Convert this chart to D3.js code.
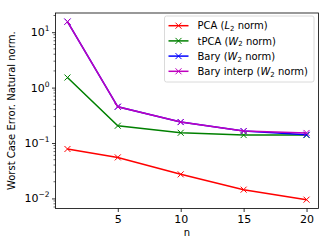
<!DOCTYPE html>
<html>
<head>
<meta charset="utf-8">
<script src="https://cdn.jsdelivr.net/npm/d3@7"></script>
<style>
  body { margin: 0; background: #fff; }
  text { font-family: "DejaVu Sans", sans-serif; }
</style>
</head>
<body>
<svg id="chart"></svg>
<script>
// data
var nValues = [1, 5, 10, 15, 20];
var pcaL2 = [0.078, 0.055, 0.0272, 0.0144, 0.0095];
var tpcaW2 = [1.52, 0.205, 0.153, 0.139, 0.139];
var baryW2 = [15.5, 0.451, 0.239, 0.164, 0.141];
var baryInterpW2 = [15.5, 0.451, 0.239, 0.164, 0.152];
var xTicks = [5, 10, 15, 20];
var yTicks = [-2, -1, 0, 1];

var series = [
  { name: "PCA", norm: "L", values: pcaL2, color: "#ff0000" },
  { name: "tPCA", norm: "W", values: tpcaW2, color: "#008000" },
  { name: "Bary", norm: "W", values: baryW2, color: "#0000ff" },
  { name: "Bary interp", norm: "W", values: baryInterpW2, color: "#bf00bf" }
];

var W = 332, H = 249;
var margin = { top: 13, right: 13.5, bottom: 40.5, left: 55.5 },
  width = W - margin.left - margin.right,
  height = H - margin.top - margin.bottom;

var svg = d3.select("svg#chart").attr("width", W).attr("height", H);
var g = svg.append("g")
  .attr("transform", "translate(" + margin.left + "," + margin.top + ")");

// matplotlib-like 5% padding
var x = d3.scaleLinear().domain([1 - 0.95, 20 + 0.95]).range([0, width]);
var y = d3.scaleLog().domain([0.00658, 22.2]).range([height, 0]);

// x axis
var xAxis = g.append("g")
  .attr("transform", "translate(0," + height + ")")
  .call(d3.axisBottom(x).tickValues(xTicks).tickSize(3.5).tickPadding(3));
xAxis.select(".domain").remove();
xAxis.selectAll("text").attr("font-size", 11).attr("fill", "#000")
  .attr("font-family", "DejaVu Sans");

// y axis, major ticks with superscript labels
var majorVals = yTicks.map(function (e) { return Math.pow(10, e); });
var yAxis = g.append("g")
  .call(d3.axisLeft(y).tickValues(majorVals).tickSize(3.5).tickFormat(""));
yAxis.select(".domain").remove();
yTicks.forEach(function (e) {
  var t = g.append("text")
    .attr("x", -6)
    .attr("y", y(Math.pow(10, e)) + 4)
    .attr("text-anchor", "end")
    .attr("font-size", 11)
    .attr("fill", "#000");
  t.append("tspan").text("10");
  t.append("tspan").attr("dy", -5).attr("font-size", 7.5)
    .text(e < 0 ? "\u2212" + (-e) : "" + e);
});

// minor ticks
var minor = [];
for (var e = -3; e <= 1; e++) {
  for (var k = 2; k <= 9; k++) {
    var v = k * Math.pow(10, e);
    if (v >= y.domain()[0] && v <= y.domain()[1]) minor.push(v);
  }
}
g.selectAll(".minor").data(minor).enter().append("line")
  .attr("class", "minor")
  .attr("x1", -2).attr("x2", 0)
  .attr("y1", function (d) { return y(d); })
  .attr("y2", function (d) { return y(d); })
  .attr("stroke", "#000").attr("stroke-width", 0.6);

g.selectAll(".tick line").attr("stroke", "#000").attr("stroke-width", 0.8);

// frame
g.append("rect")
  .attr("width", width).attr("height", height)
  .attr("fill", "none").attr("stroke", "#000").attr("stroke-width", 0.8);

// lines
var line = d3.line()
  .x(function (d, i) { return x(nValues[i]); })
  .y(function (d) { return y(d); });

function cross(sel, color) {
  var s = 3;
  sel.append("path")
    .attr("d", "M" + -s + "," + -s + "L" + s + "," + s + "M" + -s + "," + s + "L" + s + "," + -s)
    .attr("stroke", color).attr("stroke-width", 1).attr("fill", "none");
}

series.forEach(function (s) {
  g.append("path")
    .datum(s.values)
    .attr("d", line)
    .attr("fill", "none")
    .attr("stroke", s.color)
    .attr("stroke-width", 1.5);
  s.values.forEach(function (v, i) {
    var m = g.append("g")
      .attr("transform", "translate(" + x(nValues[i]) + "," + y(v) + ")");
    cross(m, s.color);
  });
});

// axis labels
svg.append("text")
  .attr("x", margin.left + width / 2)
  .attr("y", 236)
  .attr("text-anchor", "middle")
  .attr("font-size", 10)
  .text("n");

svg.append("text")
  .attr("transform", "translate(15," + (margin.top + height / 2) + ") rotate(-90)")
  .attr("text-anchor", "middle")
  .attr("font-size", 10)
  .text("Worst Case Error. Natural norm.");

// legend
var lg = svg.append("g").attr("transform", "translate(164.5,16)");
lg.append("rect")
  .attr("width", 149.5).attr("height", 66)
  .attr("rx", 2).attr("ry", 2)
  .attr("fill", "#fff").attr("fill-opacity", 0.8)
  .attr("stroke", "#d0d0d0").attr("stroke-width", 0.8);

series.forEach(function (s, i) {
  var yy = 9.7 + i * 15.2;
  lg.append("line")
    .attr("x1", 4).attr("x2", 24)
    .attr("y1", yy).attr("y2", yy)
    .attr("stroke", s.color).attr("stroke-width", 1.5);
  var m = lg.append("g").attr("transform", "translate(14," + yy + ")");
  cross(m, s.color);
  var t = lg.append("text")
    .attr("x", 33).attr("y", yy + 3.6)
    .attr("font-size", 10);
  t.append("tspan").text(s.name + " (");
  t.append("tspan").attr("font-style", "italic").text(s.norm);
  t.append("tspan").attr("font-size", 7).attr("dy", 1.8).text("2");
  t.append("tspan").attr("dy", -1.8).text(" norm)");
});
</script>
</body>
</html>
